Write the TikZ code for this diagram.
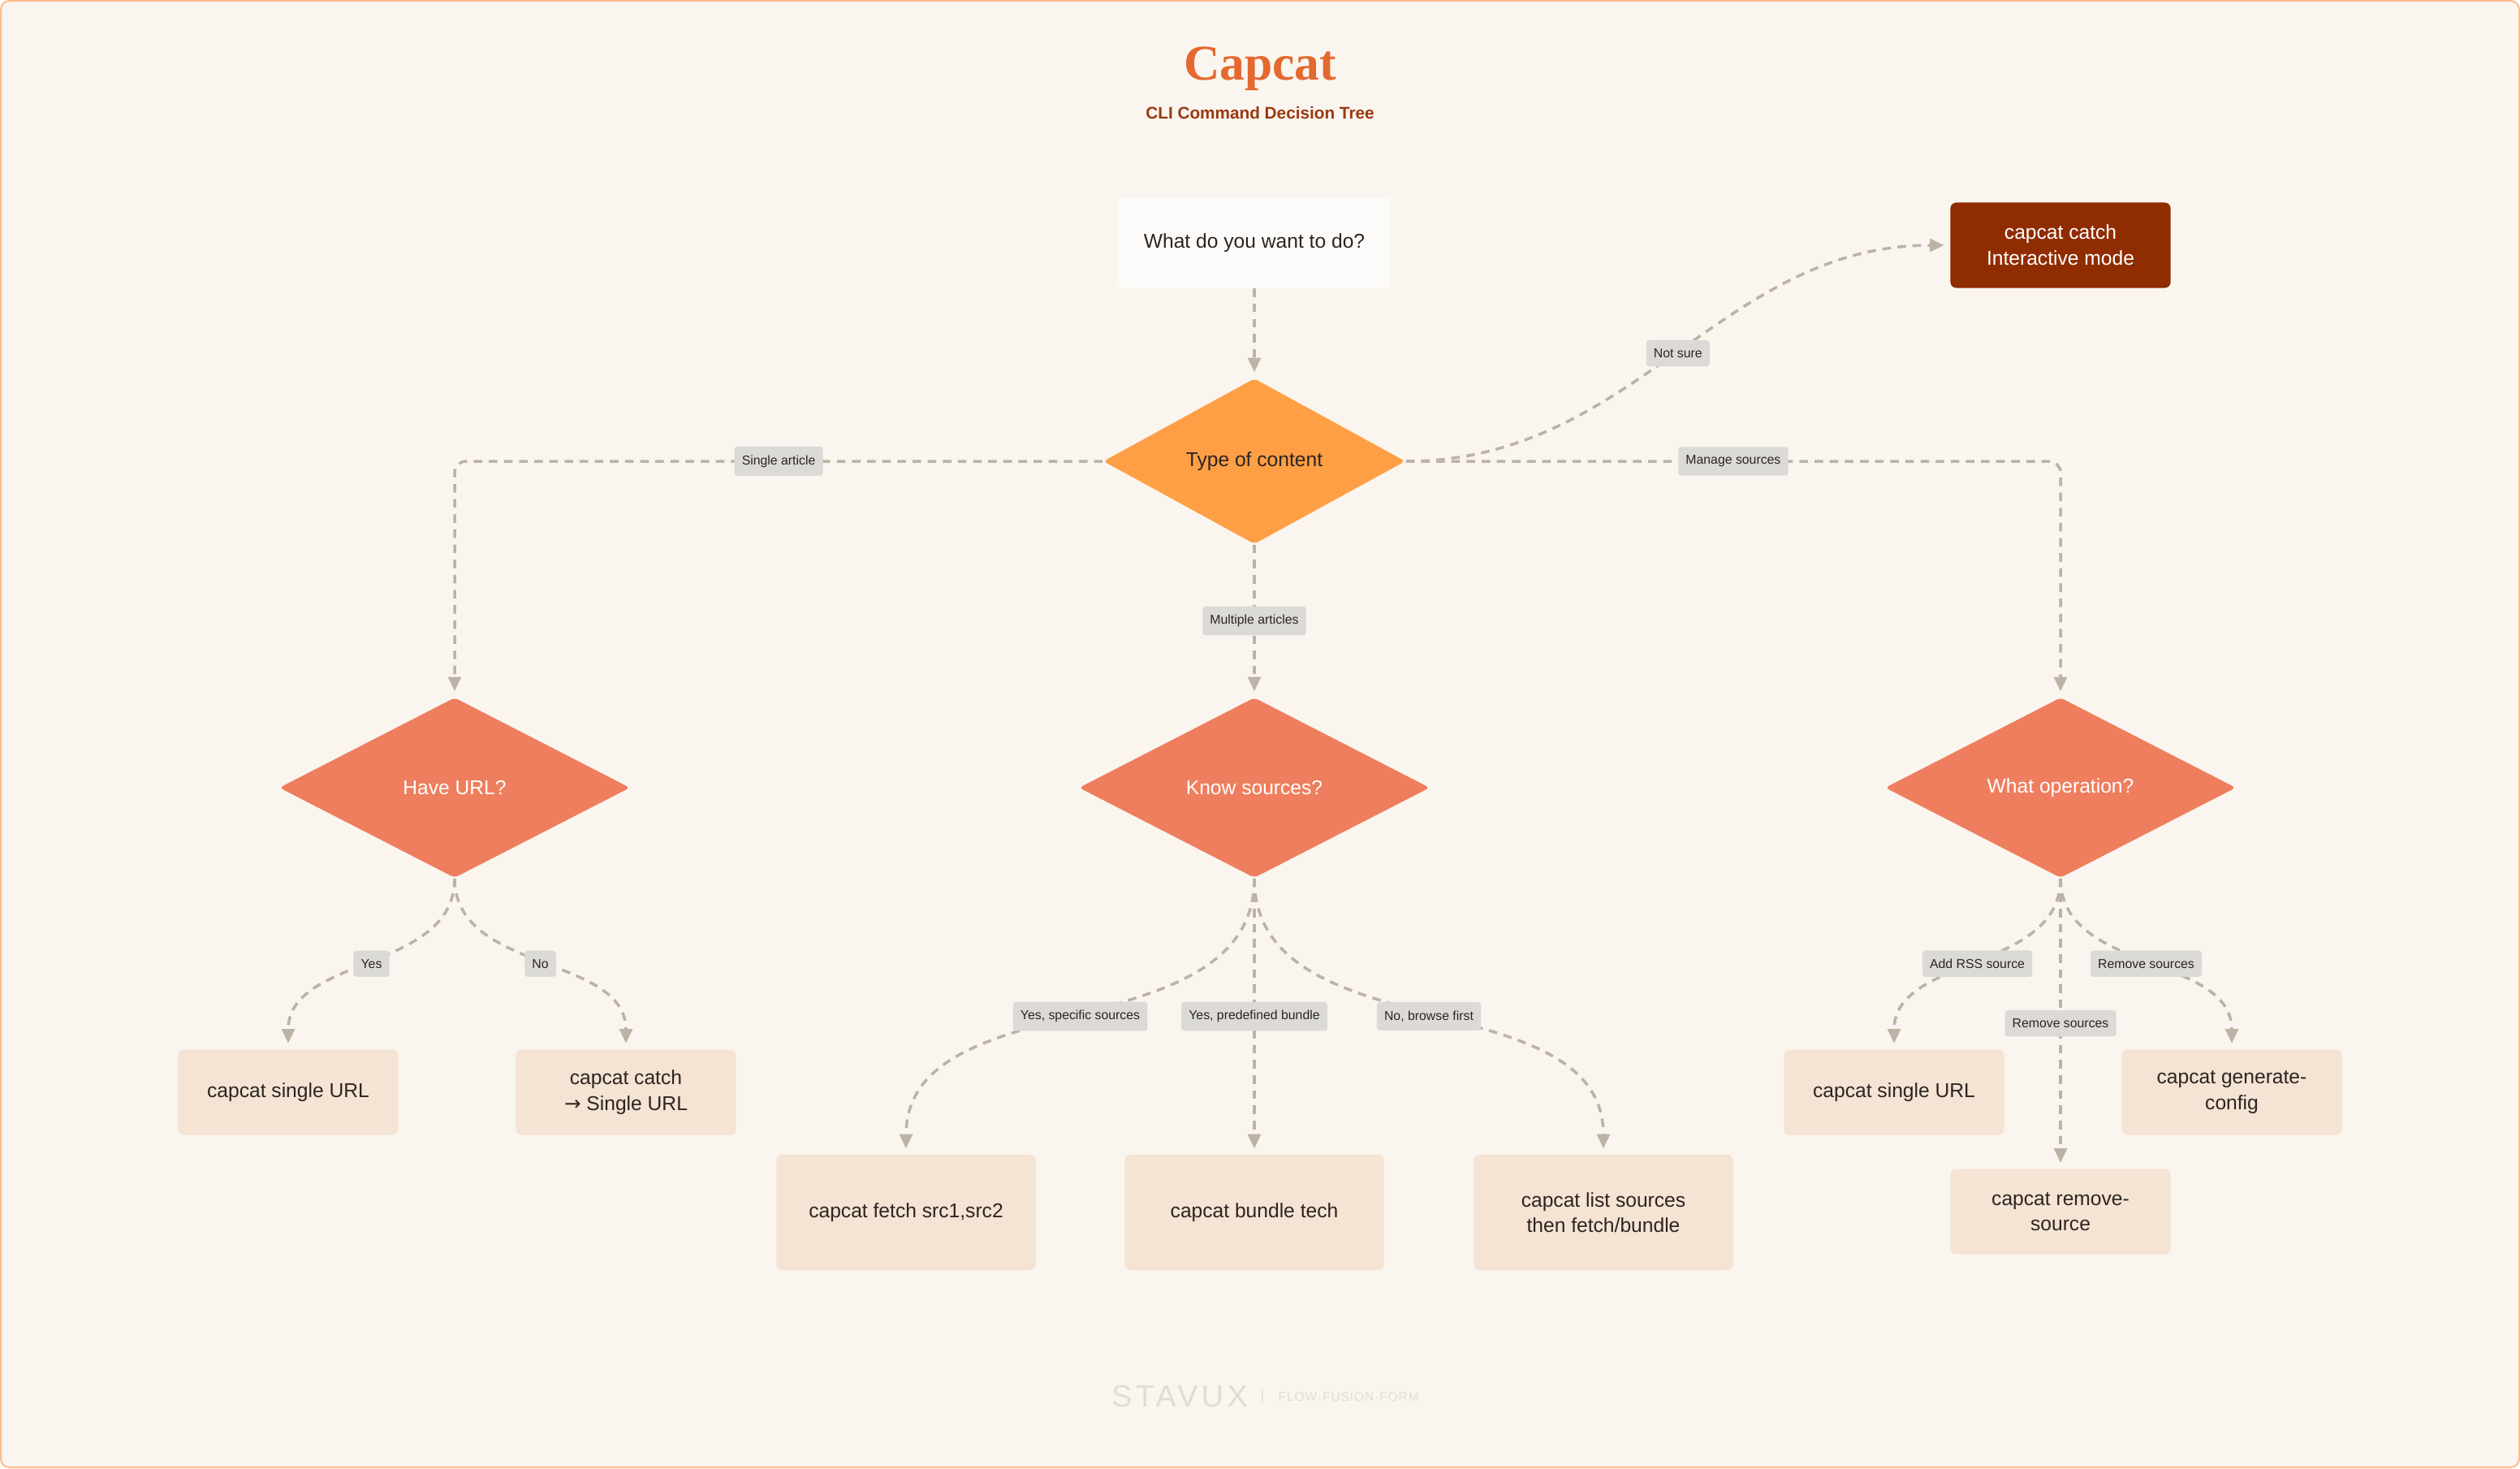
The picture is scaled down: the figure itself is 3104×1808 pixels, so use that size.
\documentclass[tikz,border=0pt]{standalone}
\usepackage{fontspec}
\setmainfont{Liberation Sans}
\newfontfamily\titlefont{Liberation Serif}
\newfontfamily\arrowfont{DejaVu Sans}
\newfontfamily\markfont{Liberation Sans}[LetterSpace=12]
\newfontfamily\mottofont{Liberation Sans}[LetterSpace=6]
\usetikzlibrary{shapes.geometric, arrows.meta}
\definecolor{paper}{HTML}{FAF5EF}
\definecolor{rim}{HTML}{FFBC8F}
\definecolor{ink}{HTML}{2B2522}
\definecolor{amber}{HTML}{FF9F45}
\definecolor{salmon}{HTML}{EE7E5E}
\definecolor{peach}{HTML}{F5E3D3}
\definecolor{rust}{HTML}{8F2C00}
\definecolor{tagfill}{HTML}{DCDAD7}
\definecolor{wire}{HTML}{BCB3A6}
\definecolor{heading}{HTML}{E4692F}
\definecolor{subhead}{HTML}{9A3A10}
\definecolor{mark}{HTML}{E0DCD7}

\begin{document}
\begin{tikzpicture}[x=0.01cm, y=-0.01cm,
    every node/.style={font=\fontsize{7}{9}\selectfont, text=ink},
    startbox/.style={fill=white!60!paper, rounded corners=2pt, minimum width=3.35cm, minimum height=1.11cm},
    decide/.style={diamond, inner sep=0pt, rounded corners=1.5pt},
    query/.style={decide, fill=salmon, text=white, aspect=1.93, minimum width=4.32cm, minimum height=2.22cm},
    cmd/.style={fill=peach, rounded corners=2pt, align=center, minimum width=2.71cm, minimum height=1.05cm},
    cmdtall/.style={cmd, minimum width=3.19cm, minimum height=1.42cm},
    tag/.style={fill=tagfill, rounded corners=1pt, inner xsep=2.6pt, inner ysep=3pt, font=\fontsize{4.5}{5}\selectfont},
    flow/.style={draw=wire, line width=1pt, dash pattern=on 3pt off 2.3pt, shorten >=2pt, -{Triangle[length=5pt, width=4.5pt]}}]
    \useasboundingbox (0,0) rectangle (3104,1808);
    \draw[draw=rim, fill=paper, line width=0.6pt, rounded corners=3pt] (1,1) rectangle (3103,1807);
    \node[text=heading, font=\titlefont\bfseries\fontsize{17.5}{20}\selectfont] (ttl) at (1552,85) {Capcat};
    \node[text=subhead, font=\bfseries\fontsize{5.9}{7}\selectfont] (sub) at (1552,139) {CLI Command Decision Tree};
    \node[startbox] (ask) at (1545,299) {What do you want to do?};
    \node[decide, fill=amber, aspect=1.82, minimum width=3.72cm, minimum height=2.04cm] (kind) at (1545,568) {Type of content};
    \node[cmd, fill=rust, text=white] (interact) at (2538,302) {capcat catch\\Interactive mode};
    \node[query] (url) at (560,970) {Have URL?};
    \node[query] (srcs) at (1545,970) {Know sources?};
    \node[query] (oper) at (2538,970) {What operation?};
    \node[cmd] (single) at (355,1345) {capcat single URL};
    \node[cmd] (catchurl) at (771,1345) {capcat catch\\{\arrowfont→} Single URL};
    \node[cmdtall] (fetch) at (1116,1493) {capcat fetch src1,src2};
    \node[cmdtall] (bundle) at (1545,1493) {capcat bundle tech};
    \node[cmdtall] (list) at (1975,1493) {capcat list sources\\then fetch/bundle};
    \node[cmd] (addrss) at (2333,1345) {capcat single URL};
    \node[cmd] (gencfg) at (2749,1345) {capcat generate-\\config};
    \node[cmd] (rmsrc) at (2538,1492) {capcat remove-\\source};
    \draw[flow] (ask) -- (kind);
    \draw[flow, rounded corners=4pt] (kind.west) -| node[tag, pos=0.25] {Single article} (url.north);
    \draw[flow, rounded corners=4pt] (kind.east) -| node[tag, pos=0.25] {Manage sources} (oper.north);
    \draw[flow] (kind.east) to[out=0, in=180] node[tag] {Not sure} (interact.west);
    \draw[flow] (kind) -- node[tag] {Multiple articles} (srcs);
    \draw[flow] (url.south) to[out=-90, in=90] node[tag] {Yes} (single.north);
    \draw[flow] (url.south) to[out=-90, in=90] node[tag] {No} (catchurl.north);
    \draw[flow] (srcs.south) to[out=-90, in=90] node[tag] {Yes, specific sources} (fetch.north);
    \draw[flow] (srcs.south) -- node[tag] {Yes, predefined bundle} (bundle.north);
    \draw[flow] (srcs.south) to[out=-90, in=90] node[tag] {No, browse first} (list.north);
    \draw[flow] (oper.south) to[out=-90, in=90] node[tag] {Add RSS source} (addrss.north);
    \draw[flow] (oper.south) to[out=-90, in=90] node[tag] {Remove sources} (gencfg.north);
    \draw[flow] (oper.south) -- node[tag] {Remove sources} (rmsrc.north);
    \node[text=mark, font=\markfont\fontsize{10.7}{12}\selectfont] (brand) at (1453,1720) {STAVUX};
    \node[text=mark, font=\fontsize{5}{6}\selectfont] (bar) at (1555,1721) {|};
    \node[text=mark, font=\mottofont\fontsize{4.4}{5}\selectfont, anchor=west, inner xsep=0pt] (motto) at (1574,1720) {FLOW·FUSION·FORM};
\end{tikzpicture}
\end{document}
